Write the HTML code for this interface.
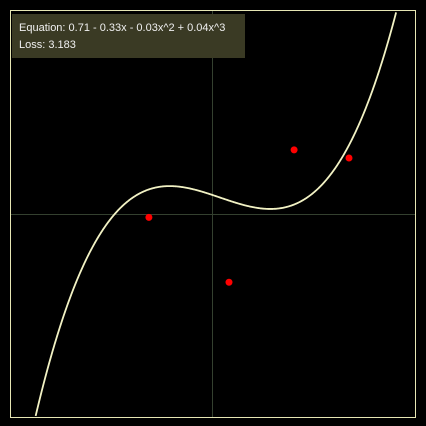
<!DOCTYPE html>
<html><head><meta charset="utf-8"><style>
html,body{margin:0;padding:0;background:#000;width:426px;height:426px;overflow:hidden}
svg{display:block}
text{font-family:"Liberation Sans",sans-serif;font-size:11px;fill:#f0f0f0}
</style></head><body>
<svg id="c" width="426" height="426">
<rect x="10.5" y="10.5" width="405" height="407" fill="#000" stroke="#e6e6b4" stroke-width="1"/>
<line x1="11" y1="214.5" x2="415" y2="214.5" stroke="#34402f" stroke-width="1"/>
<line x1="212.5" y1="11" x2="212.5" y2="417" stroke="#34402f" stroke-width="1"/>
<g id="marks"></g>
<rect x="12" y="14" width="233" height="44" fill="#3a3a24"/>
<text x="19" y="31">Equation: 0.71 - 0.33x - 0.03x^2 + 0.04x^3</text>
<text x="19" y="48">Loss: 3.183</text>
</svg>
<script>
const coeffs=[0.71,-0.33,-0.03,0.04];
const pointsX=[-2.12,0.55,2.72,4.55];
const pointsY=[-0.03,-2.17,2.2,1.93];
const xDomain=[-6.75,6.75];
const sx=v=>212.5+v*30;
const sy=v=>216.5-v*30.3;
const NS='http://www.w3.org/2000/svg';
const g=document.getElementById('marks');
function f(x){return coeffs.reduce((s,c,i)=>s+c*Math.pow(x,i),0);}
let d='';
for(let i=0;i<=600;i++){
  const x=xDomain[0]+(xDomain[1]-xDomain[0])*i/600;
  const y=f(x);
  const py=sy(y);
  if(py<10.5||py>417.5)continue;
  d+=(d?'L':'M')+sx(x).toFixed(2)+','+py.toFixed(2);
}
const p=document.createElementNS(NS,'path');
p.setAttribute('d',d);p.setAttribute('fill','none');p.setAttribute('stroke','#f2f2c4');p.setAttribute('stroke-width','1.8');


g.appendChild(p);
pointsX.forEach((x,i)=>{
  const c=document.createElementNS(NS,'circle');
  c.setAttribute('cx',sx(x));c.setAttribute('cy',sy(pointsY[i]));c.setAttribute('r','3.5');c.setAttribute('fill','#ff0000');
  
  
  g.appendChild(c);
});
</script>
</body></html>
